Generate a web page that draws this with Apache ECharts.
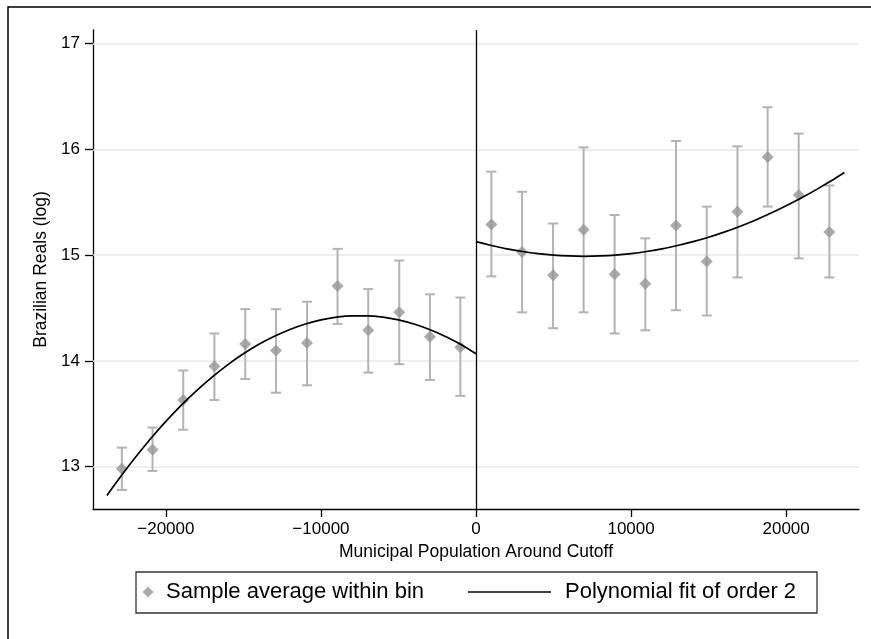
<!DOCTYPE html>
<html>
<head>
<meta charset="utf-8">
<script src="https://cdn.jsdelivr.net/npm/echarts@6/dist/echarts.min.js"></script>
<style>html,body{margin:0;padding:0;background:#fff;}#c{width:871px;height:639px;}</style>
</head>
<body>
<div id="c"></div>
<script>
// ---- data ----
const binsLeft  = [-22840, -20860, -18880, -16870, -14880, -12900, -10900, -8930, -6950, -4950, -2970, -1010];
const meansLeft = [12.98, 13.16, 13.63, 13.95, 14.16, 14.10, 14.17, 14.71, 14.29, 14.46, 14.23, 14.13];
const lowLeft   = [12.78, 12.96, 13.35, 13.63, 13.83, 13.70, 13.77, 14.35, 13.89, 13.97, 13.82, 13.67];
const highLeft  = [13.18, 13.37, 13.91, 14.26, 14.49, 14.49, 14.56, 15.06, 14.68, 14.95, 14.63, 14.60];

const binsRight  = [990, 2970, 4970, 6940, 8940, 10920, 12900, 14880, 16860, 18810, 20810, 22790];
const meansRight = [15.29, 15.03, 14.81, 15.24, 14.82, 14.73, 15.28, 14.94, 15.41, 15.93, 15.57, 15.22];
const lowRight   = [14.80, 14.46, 14.31, 14.46, 14.26, 14.29, 14.48, 14.43, 14.79, 15.46, 14.97, 14.79];
const highRight  = [15.79, 15.60, 15.30, 16.02, 15.38, 15.16, 16.08, 15.46, 16.03, 16.40, 16.15, 15.66];

const fitLeftX  = [-23800, -23000, -22000, -21000, -20000, -19000, -18000, -17000, -16000, -15000, -14000, -13000,
                   -12000, -11000, -10000, -9000, -8000, -7000, -6000, -5000, -4000, -3000, -2000, -1000, 0];
const fitLeftY  = [12.728, 12.890, 13.082, 13.262, 13.428, 13.582, 13.722, 13.850, 13.966, 14.068, 14.158, 14.234,
                   14.298, 14.350, 14.388, 14.414, 14.426, 14.426, 14.414, 14.388, 14.350, 14.298, 14.234, 14.158, 14.068];
const fitRightX = [0, 1000, 2000, 3000, 4000, 5000, 6000, 7000, 8000, 9000, 10000, 11000, 12000,
                   13000, 14000, 15000, 16000, 17000, 18000, 19000, 20000, 21000, 22000, 23000, 23760];
const fitRightY = [15.128, 15.092, 15.060, 15.035, 15.015, 15.001, 14.993, 14.990, 14.993, 15.001, 15.015, 15.035, 15.060,
                   15.092, 15.128, 15.170, 15.218, 15.272, 15.331, 15.396, 15.467, 15.543, 15.625, 15.712, 15.782];

const xTicks = [-20000, -10000, 0, 10000, 20000];
const yTicks = [13, 14, 15, 16, 17];
const cutoff = 0;

const seriesNames = ['Sample average within bin', 'Polynomial fit of order 2'];
const xTitle = 'Municipal Population Around Cutoff';
const yTitle = 'Brazilian Reals (log)';

// ---- build ----
const FONT = '"Liberation Sans", Arial, Helvetica, sans-serif';
const zip2 = (a, b) => a.map((v, i) => [v, b[i]]);
const errData = binsLeft.map((x, i) => [x, lowLeft[i], highLeft[i]])
  .concat(binsRight.map((x, i) => [x, lowRight[i], highRight[i]]));
const meanData = zip2(binsLeft, meansLeft).concat(zip2(binsRight, meansRight));

const chart = echarts.init(document.getElementById('c'), null, {renderer: 'canvas'});
chart.setOption({
  animation: false,
  backgroundColor: '#fff',
  textStyle: {fontFamily: FONT},
  grid: {left: 93, right: 12, top: 30, bottom: 130, containLabel: false},
  xAxis: {
    type: 'value', min: -24700, max: 24700,
    axisLine: {show: true, onZero: false, lineStyle: {color: '#000', width: 1.3}},
    axisTick: {show: true, length: 8, customValues: xTicks, lineStyle: {color: '#000', width: 1.3}},
    axisLabel: {customValues: xTicks, color: '#000', fontSize: 17, fontFamily: FONT, margin: 12,
      formatter: v => (v < 0 ? '\u2212' + Math.abs(v) : String(v))},
    splitLine: {show: false},
    name: xTitle, nameLocation: 'middle', nameGap: 31,
    nameTextStyle: {color: '#000', fontSize: 17.5, fontFamily: FONT}
  },
  yAxis: {
    type: 'value', min: 12.6, max: 17.13,
    axisLine: {show: true, onZero: false, lineStyle: {color: '#000', width: 1.3}},
    axisTick: {show: true, length: 8, customValues: yTicks, lineStyle: {color: '#000', width: 1.3}},
    axisLabel: {customValues: yTicks, color: '#000', fontSize: 17, fontFamily: FONT, margin: 13},
    splitLine: {show: false},
    name: yTitle, nameLocation: 'middle', nameGap: 40, nameRotate: 90,
    nameTextStyle: {color: '#000', fontSize: 17.5, fontFamily: FONT}
  },
  legend: [
    {data: [seriesNames[0]], left: 142.5, top: 581, orient: 'horizontal', padding: 0,
     itemWidth: 11, itemHeight: 11, icon: 'diamond', selectedMode: false,
     textStyle: {fontSize: 22, color: '#000', fontFamily: FONT, padding: [0, 0, 0, 7.5]}},
    {data: [{name: seriesNames[1], icon: 'path://M0,0 L83,0 L83,1.7 L0,1.7 Z'}],
     left: 468, top: 581, orient: 'horizontal', padding: 0,
     itemWidth: 83, itemHeight: 11, selectedMode: false,
     itemStyle: {color: '#000', borderWidth: 0},
     textStyle: {fontSize: 22, color: '#000', fontFamily: FONT, padding: [0, 0, 0, 9]}}
  ],
  graphic: [
    {type: 'rect', z: -10, silent: true, shape: {x: 8, y: 7, width: 900, height: 700},
     style: {fill: null, stroke: '#000', lineWidth: 1.5}},
    {type: 'rect', z: 0, silent: true, shape: {x: 136, y: 572, width: 681, height: 41},
     style: {fill: null, stroke: '#333', lineWidth: 1.3}}
  ],
  series: [
    {
      type: 'custom', name: 'ci', z: 2, silent: true,
      data: errData,
      encode: {x: 0, y: [1, 2]},
      renderItem: function (params, api) {
        const x = api.value(0);
        const lo = api.coord([x, api.value(1)]);
        const hi = api.coord([x, api.value(2)]);
        const hw = 5;
        const st = {stroke: '#b3b3b3', lineWidth: 2};
        return {type: 'group', children: [
          {type: 'line', shape: {x1: lo[0], y1: lo[1], x2: hi[0], y2: hi[1]}, style: st},
          {type: 'line', shape: {x1: hi[0] - hw, y1: hi[1], x2: hi[0] + hw, y2: hi[1]}, style: st},
          {type: 'line', shape: {x1: lo[0] - hw, y1: lo[1], x2: lo[0] + hw, y2: lo[1]}, style: st}
        ]};
      },
      markLine: {
        silent: true, symbol: 'none', label: {show: false}, z: 1,
        data: yTicks.map(v => ({yAxis: v, lineStyle: {color: '#e8e8e8', width: 1.5, type: 'solid'}}))
          .concat([{xAxis: cutoff, lineStyle: {color: '#000', width: 1.3, type: 'solid'}}])
      }
    },
    {
      type: 'scatter', name: seriesNames[0], z: 3, silent: true,
      data: meanData, symbol: 'diamond', symbolSize: 12,
      itemStyle: {color: '#969696'}
    },
    {
      type: 'line', name: seriesNames[1], z: 4, silent: true,
      data: zip2(fitLeftX, fitLeftY), smooth: 0.2, showSymbol: false, symbol: 'none',
      lineStyle: {color: '#000', width: 1.7}, itemStyle: {color: '#000'}
    },
    {
      type: 'line', name: seriesNames[1], z: 4, silent: true,
      data: zip2(fitRightX, fitRightY), smooth: 0.2, showSymbol: false, symbol: 'none',
      lineStyle: {color: '#000', width: 1.7}, itemStyle: {color: '#000'}
    }
  ]
});
</script>
</body>
</html>
